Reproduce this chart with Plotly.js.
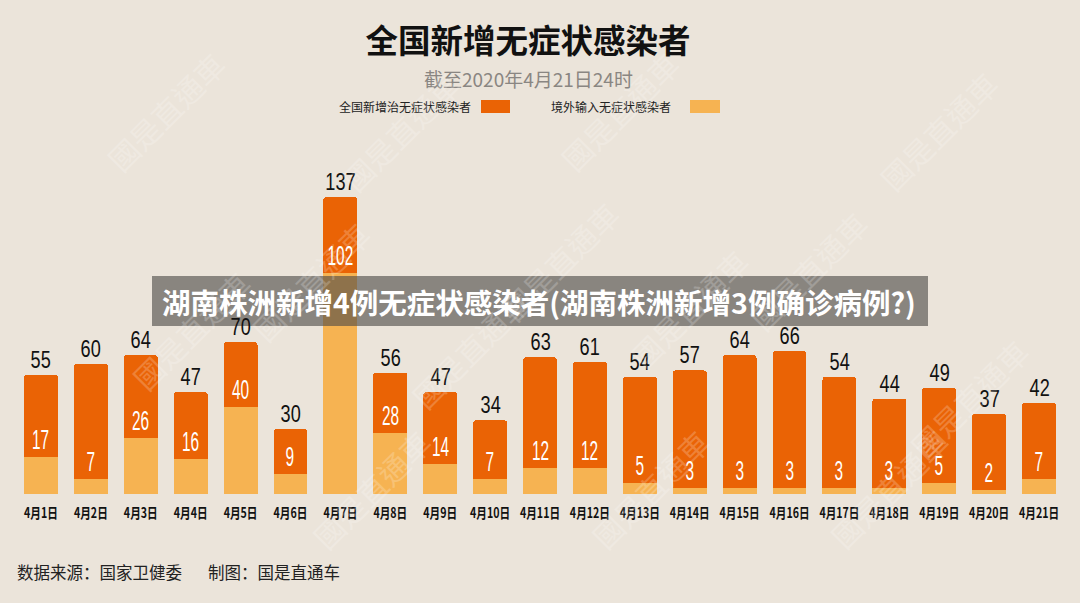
<!DOCTYPE html>
<html>
<head>
<meta charset="utf-8">
<script src="https://cdn.plot.ly/plotly-3.0.1.min.js"></script>
<style>
  html, body { margin: 0; padding: 0; background: #ebe4da; }
  #chart { width: 1080px; height: 603px; }
</style>
</head>
<body>
<div id="chart"></div>
<script>
// 全国新增无症状感染者（截至2020年4月21日24时）
const dates = ['4月1日','4月2日','4月3日','4月4日','4月5日','4月6日','4月7日','4月8日','4月9日','4月10日',
               '4月11日','4月12日','4月13日','4月14日','4月15日','4月16日','4月17日','4月18日','4月19日','4月20日','4月21日'];
const totals   = [55, 60, 64, 47, 70, 30, 137, 56, 47, 34, 63, 61, 54, 57, 64, 66, 54, 44, 49, 37, 42];
const imported = [17, 7, 26, 16, 40, 9, 102, 28, 14, 7, 12, 12, 5, 3, 3, 3, 3, 3, 5, 2, 7];
const seriesNames = ['全国新增治无症状感染者', '境外输入无症状感染者'];

const local = totals.map((t, i) => t - imported[i]);

const DARK = '#ea6305';
const LIGHT = '#f6b352';
const NUM_FONT = '"Liberation Sans", Arial, sans-serif';
const CJK = '"Noto Sans CJK SC", "Noto Sans", sans-serif';

const traces = [
  { type: 'bar', name: seriesNames[1], x: dates, y: imported,
    marker: { color: LIGHT }, width: 0.68, hoverinfo: 'x+y' },
  { type: 'bar', name: seriesNames[0], x: dates, y: local,
    marker: { color: DARK, cornerradius: 3 }, width: 0.68, hoverinfo: 'x+y' }
];

const annotations = [];
dates.forEach((d, i) => {
  // total above each stack
  annotations.push({ x: d, y: totals[i], xref: 'x', yref: 'y', text: String(totals[i]),
    showarrow: false, yanchor: 'bottom', yshift: 0, name: 'total',
    font: { family: NUM_FONT, size: 24.5, color: '#111' } });
  // imported count just above the light segment
  annotations.push({ x: d, y: imported[i], xref: 'x', yref: 'y', text: String(imported[i]),
    showarrow: false, yanchor: 'bottom', yshift: 0, name: 'inner',
    font: { family: NUM_FONT, size: 28, color: '#ffffff' } });
});

// subtitle, legend labels, footer
annotations.push(
  { xref: 'paper', yref: 'paper', x: (528 - 16) / 1048, y: 1.0 + (150 - 78) / 344, text: '截至2020年4月21日24时',
    showarrow: false, xanchor: 'center', yanchor: 'middle',
    font: { family: CJK, size: 19, color: '#8a8682' } },
  { xref: 'paper', yref: 'paper', x: (473 - 16) / 1048, y: 1.0 + (150 - 106) / 344, text: seriesNames[0],
    showarrow: false, xanchor: 'right', yanchor: 'middle',
    font: { family: CJK, size: 12, color: '#222' } },
  { xref: 'paper', yref: 'paper', x: (673 - 16) / 1048, y: 1.0 + (150 - 106) / 344, text: seriesNames[1],
    showarrow: false, xanchor: 'right', yanchor: 'middle',
    font: { family: CJK, size: 12, color: '#222' } },
  { xref: 'paper', yref: 'paper', x: (15 - 16) / 1048, y: -(572 - 494) / 344, text: '数据来源：国家卫健委',
    showarrow: false, xanchor: 'left', yanchor: 'middle',
    font: { family: CJK, size: 16.5, color: '#222' } },
  { xref: 'paper', yref: 'paper', x: (206 - 16) / 1048, y: -(572 - 494) / 344, text: '制图：国是直通车',
    showarrow: false, xanchor: 'left', yanchor: 'middle',
    font: { family: CJK, size: 16.5, color: '#222' } },
  // headline banner text
  { xref: 'paper', yref: 'paper', x: (539 - 16) / 1048, y: (494 - 301) / 344,
    text: '<b>湖南株洲新增4例无症状感染者(湖南株洲新增3例确诊病例?)</b>',
    showarrow: false, xanchor: 'center', yanchor: 'middle',
    font: { family: CJK, size: 28.5, color: '#ffffff' } }
);

// faint seal-style watermarks
const marks = [[95, 40], [330, 60], [620, 40], [1010, 60], [240, 210], [560, 190], [880, 200],
               [120, 330], [470, 420], [760, 380], [1040, 470], [300, 560], [650, 560], [960, 560]];
marks.forEach(([px, py]) => {
  annotations.push({ xref: 'paper', yref: 'paper', x: (px - 16) / 1048, y: (494 - py) / 344,
    text: '國是直通車', showarrow: false, textangle: -45, opacity: 0.2,
    font: { family: '"Noto Sans CJK TC", sans-serif', size: 30, color: '#ffffff' } });
});

const shapes = [
  // legend swatches
  { type: 'rect', xref: 'paper', yref: 'paper',
    x0: (481 - 16) / 1048, x1: (510 - 16) / 1048, y0: 1 + (150 - 113) / 344, y1: 1 + (150 - 100) / 344,
    fillcolor: DARK, line: { width: 0 } },
  { type: 'rect', xref: 'paper', yref: 'paper',
    x0: (690 - 16) / 1048, x1: (720 - 16) / 1048, y0: 1 + (150 - 113) / 344, y1: 1 + (150 - 100) / 344,
    fillcolor: LIGHT, line: { width: 0 } },
  // headline banner
  { type: 'rect', xref: 'paper', yref: 'paper', layer: 'above',
    x0: (152 - 16) / 1048, x1: (928 - 16) / 1048, y0: (494 - 326) / 344, y1: (494 - 276) / 344,
    fillcolor: 'rgba(78,74,71,0.62)', line: { width: 0 } }
];

const layout = {
  width: 1080, height: 603,
  paper_bgcolor: '#ebe4da', plot_bgcolor: '#ebe4da',
  margin: { l: 16, r: 16, t: 150, b: 109 },
  barmode: 'stack',
  showlegend: false,
  title: { text: '<b>全国新增无症状感染者</b>', x: 528 / 1080, xanchor: 'center', y: 1 - 42 / 603, yanchor: 'middle',
    font: { family: CJK, size: 32.5, color: '#111' } },
  xaxis: { type: 'category', range: [-0.5, 20.5], showgrid: false, zeroline: false, showline: false,
    ticks: '', tickangle: 0, ticklabelstandoff: 9,
    tickfont: { family: CJK, size: 14, color: '#111', weight: 'bold' } },
  yaxis: { range: [0, 344 / 2.168], visible: false, showgrid: false, zeroline: false, fixedrange: true },
  annotations: annotations,
  shapes: shapes,
  bargap: 0
};

// horizontally narrow a text element about its own centre
function squeeze(el, sx) {
  const b = el.getBBox();
  const cx = b.x + b.width / 2;
  const prev = el.getAttribute('transform') || '';
  el.setAttribute('transform', prev + ' translate(' + cx + ',0) scale(' + sx + ',1) translate(' + (-cx) + ',0)');
}

Plotly.newPlot('chart', traces, layout, { displayModeBar: false, staticPlot: true }).then(() => {
  const gd = document.getElementById('chart');
  gd.querySelectorAll('.annotation').forEach(g => {
    const t = g.querySelector('.annotation-text');
    if (!t || !/^\d+$/.test(t.textContent)) return;
    const size = parseFloat(t.style.fontSize);
    squeeze(t, size > 26 ? 0.55 : 0.74);
  });
  gd.querySelectorAll('.xtick text').forEach(t => squeeze(t, 0.76));
});
</script>
</body>
</html>
